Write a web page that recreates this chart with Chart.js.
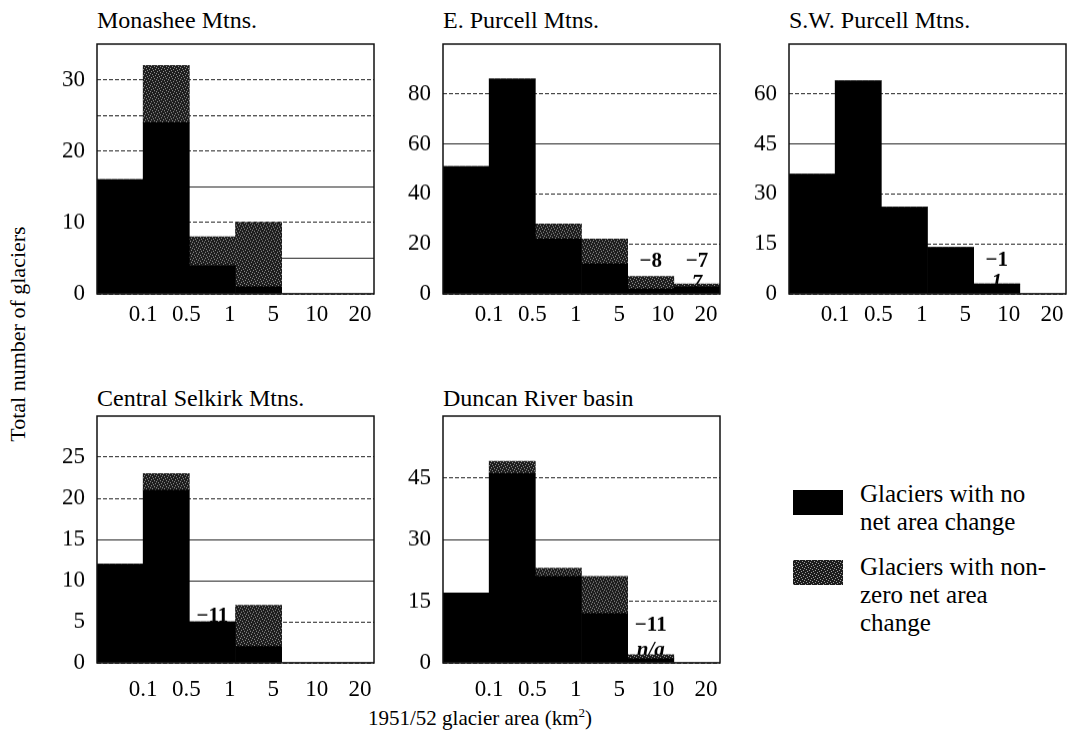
<!DOCTYPE html>
<html>
<head>
<meta charset="utf-8">
<script src="https://cdn.jsdelivr.net/npm/chart.js@4.4.1/dist/chart.umd.min.js"></script>
<style>
  html, body { margin: 0; padding: 0; background: #fff; }
  #page { position: relative; width: 1081px; height: 753px; overflow: hidden;
          font-family: "Liberation Serif", "Times New Roman", serif; color: #000; }
  .panel { position: absolute; }
  .panel canvas { display: block; }
  .title { position: absolute; font-size: 24px; line-height: 24px; white-space: nowrap; }
  #ytitle { position: absolute; left: 18px; top: 334px; font-size: 22px; white-space: nowrap;
            transform: translate(-50%, -50%) rotate(-90deg); }
  #xtitle { position: absolute; left: 480px; top: 718px; font-size: 21px; white-space: nowrap;
            transform: translate(-50%, -50%); }
  #xtitle sup { font-size: 13px; vertical-align: 8px; line-height: 0; }
  .swatch { position: absolute; width: 50px; height: 25px; }
  .ltext { position: absolute; font-size: 25px; line-height: 28px; white-space: nowrap; }
</style>
</head>
<body>
<div id="page">
  <div id="ytitle">Total number of glaciers</div>
  <div id="xtitle">1951/52 glacier area (km<sup>2</sup>)</div>
  <div class="swatch" id="swNo" style="left:793px; top:490px; background:#000;"></div>
  <div class="ltext" style="left:860px; top:480px;">Glaciers with no<br>net area change</div>
  <div class="swatch" id="swYes" style="left:793px; top:560px;"></div>
  <div class="ltext" style="left:860px; top:553px;">Glaciers with non-<br>zero net area<br>change</div>
</div>
<script>
// Size classes (km²): bin edges used as axis labels, and bin names
const binEdges = ['0.1', '0.5', '1', '5', '10', '20'];
const binNames = ['<0.1', '0.1–0.5', '0.5–1', '1–5', '5–10', '10–20'];

// Glacier counts per size class: no net area change / non-zero net area change
const monasheeNoChange = [16, 24, 4, 1, 0, 0];
const monasheeChanged  = [0, 8, 4, 9, 0, 0];

const ePurcellNoChange = [51, 86, 22, 12, 2, 3];
const ePurcellChanged  = [0, 0, 6, 10, 5, 1];

const swPurcellNoChange = [36, 64, 26, 14, 3, 0];
const swPurcellChanged  = [0, 0, 0, 0, 0, 0];

const selkirkNoChange = [12, 21, 5, 2, 0, 0];
const selkirkChanged  = [0, 2, 0, 5, 0, 0];

const duncanNoChange = [17, 46, 21, 12, 1, 0];
const duncanChanged  = [0, 3, 2, 9, 1, 0];

// Net area change (%) notes written over the large-glacier classes
const ePurcellNotes  = [
  { bin: 4, at: 13, text: '−8' },
  { bin: 5, at: 13, text: '−7' },
  { bin: 5, at: 4,  text: '7', italic: true, under: true }
];
const swPurcellNotes = [
  { bin: 4, at: 10.2, text: '−1' },
  { bin: 4, at: 3.3,  text: '1', italic: true, under: true }
];
const selkirkNotes = [
  { bin: 2, at: 5.7, text: '−11', under: true }
];
const duncanNotes = [
  { bin: 4, at: 9.2, text: '−11' },
  { bin: 4, at: 3.0, text: 'n/a', italic: true, under: true }
];

const FONT = '"Liberation Serif", "Times New Roman", serif';

// stippled dark grey fill for the "changed" series
function stippleTile() {
  const c = document.createElement('canvas');
  c.width = 6; c.height = 6;
  const g = c.getContext('2d');
  g.fillStyle = '#1c1c1c';
  g.fillRect(0, 0, 6, 6);
  g.fillStyle = '#9c9c9c';
  [[0, 0], [3, 1], [5, 2], [1, 3], [4, 4], [2, 5]].forEach(([x, y]) => g.fillRect(x, y, 1, 1));
  return c;
}
const tile = stippleTile();
const stipple = tile.getContext('2d').createPattern(tile, 'repeat');
document.getElementById('swYes').style.background = 'url(' + tile.toDataURL() + ') repeat';

const panels = [
  { title: 'Monashee Mtns.', noChange: monasheeNoChange, changed: monasheeChanged,
    yMax: 35, gridStep: 5, labelStep: 10, solid: [5, 15], notes: [],
    box: { left: 97, top: 44, width: 277, height: 249.5 }, titleTop: 8, tickPad: 7 },
  { title: 'E. Purcell Mtns.', noChange: ePurcellNoChange, changed: ePurcellChanged,
    yMax: 100, gridStep: 20, labelStep: 20, solid: [60], notes: ePurcellNotes,
    box: { left: 443, top: 44, width: 277, height: 249.5 }, titleTop: 8, tickPad: 7 },
  { title: 'S.W. Purcell Mtns.', noChange: swPurcellNoChange, changed: swPurcellChanged,
    yMax: 75, gridStep: 15, labelStep: 15, solid: [45], notes: swPurcellNotes,
    box: { left: 789, top: 44, width: 277, height: 249.5 }, titleTop: 8, tickPad: 7 },
  { title: 'Central Selkirk Mtns.', noChange: selkirkNoChange, changed: selkirkChanged,
    yMax: 30, gridStep: 5, labelStep: 5, solid: [10, 15], notes: selkirkNotes,
    box: { left: 97, top: 416, width: 277, height: 246.7 }, titleTop: 386, tickPad: 13 },
  { title: 'Duncan River basin', noChange: duncanNoChange, changed: duncanChanged,
    yMax: 60, gridStep: 15, labelStep: 15, solid: [30], notes: duncanNotes,
    box: { left: 443, top: 416, width: 277, height: 246.7 }, titleTop: 386, tickPad: 13 }
];

function drawNotes(chart, items) {
  const ctx = chart.ctx;
  const xs = chart.scales.x, ys = chart.scales.y;
  ctx.save();
  ctx.fillStyle = '#000';
  ctx.textAlign = 'center';
  ctx.textBaseline = 'middle';
  items.forEach(n => {
    ctx.font = (n.italic ? 'italic ' : '') + 'bold 21px ' + FONT;
    ctx.fillText(n.text, xs.getPixelForValue(n.bin), ys.getPixelForValue(n.at));
  });
  ctx.restore();
}

const notesPlugin = {
  id: 'notes',
  beforeDatasetsDraw(chart, args, opts) {
    drawNotes(chart, (opts.items || []).filter(n => n.under));
  },
  afterDatasetsDraw(chart, args, opts) {
    drawNotes(chart, (opts.items || []).filter(n => !n.under));
    // plot frame
    const a = chart.chartArea, ctx = chart.ctx;
    ctx.save();
    ctx.strokeStyle = '#111';
    ctx.lineWidth = 1.5;
    ctx.strokeRect(a.left, a.top, a.right - a.left, a.bottom - a.top);
    ctx.restore();
  }
};

const page = document.getElementById('page');
const PAD_L = 60, PAD_T = 3, PAD_R = 24, PAD_B = 45;

panels.forEach(p => {
  const t = document.createElement('div');
  t.className = 'title';
  t.textContent = p.title;
  t.style.left = p.box.left + 'px';
  t.style.top = p.titleTop + 'px';
  page.appendChild(t);

  const wrap = document.createElement('div');
  wrap.className = 'panel';
  const w = PAD_L + p.box.width + PAD_R;
  const h = PAD_T + p.box.height + PAD_B;
  wrap.style.left = (p.box.left - PAD_L) + 'px';
  wrap.style.top = (p.box.top - PAD_T) + 'px';
  const cv = document.createElement('canvas');
  cv.width = w; cv.height = h;
  cv.style.width = w + 'px'; cv.style.height = h + 'px';
  wrap.appendChild(cv);
  page.appendChild(wrap);

  new Chart(cv, {
    type: 'bar',
    data: {
      labels: binNames,
      datasets: [
        { label: 'Glaciers with no net area change', data: p.noChange,
          backgroundColor: '#000', borderWidth: 0, barPercentage: 1, categoryPercentage: 1 },
        { label: 'Glaciers with non-zero net area change', data: p.changed,
          backgroundColor: stipple, borderWidth: 0, barPercentage: 1, categoryPercentage: 1 }
      ]
    },
    options: {
      responsive: false,
      animation: false,
      devicePixelRatio: 1,
      layout: { padding: { left: 0, top: PAD_T, right: PAD_R, bottom: 0 } },
      plugins: {
        legend: { display: false },
        tooltip: { enabled: false },
        notes: { items: p.notes }
      },
      scales: {
        x: { type: 'category', stacked: true, display: false },
        edge: {
          type: 'linear', axis: 'x', position: 'bottom', min: -0.06, max: 6.32, offset: false,
          grid: { display: false, drawTicks: false, offset: false }, border: { display: false },
          afterBuildTicks: s => { s.ticks = binEdges.map((_, i) => ({ value: i + 1 })); },
          afterFit: s => { s.height = PAD_B; s.paddingLeft = 0; s.paddingRight = 0; },
          ticks: { autoSkip: false, maxRotation: 0, padding: p.tickPad, color: '#000',
                   font: { family: FONT, size: 23 },
                   callback: v => binEdges[v - 1] }
        },
        y: {
          stacked: true, min: 0, max: p.yMax,
          afterFit: s => { s.width = PAD_L; s.paddingTop = 0; s.paddingBottom = 0; },
          ticks: { stepSize: p.gridStep, padding: 12, color: '#000',
                   font: { family: FONT, size: 23 },
                   callback: v => v >= p.yMax ? null : (v % p.labelStep === 0 ? String(v) : '') },
          grid: { drawTicks: false, color: '#222', lineWidth: 1 },
          border: { display: false,
                    dash: ctx => (ctx.tick && p.solid.includes(ctx.tick.value)) ? [] : [4, 2] }
        }
      }
    },
    plugins: [notesPlugin]
  });
});
</script>
</body>
</html>
